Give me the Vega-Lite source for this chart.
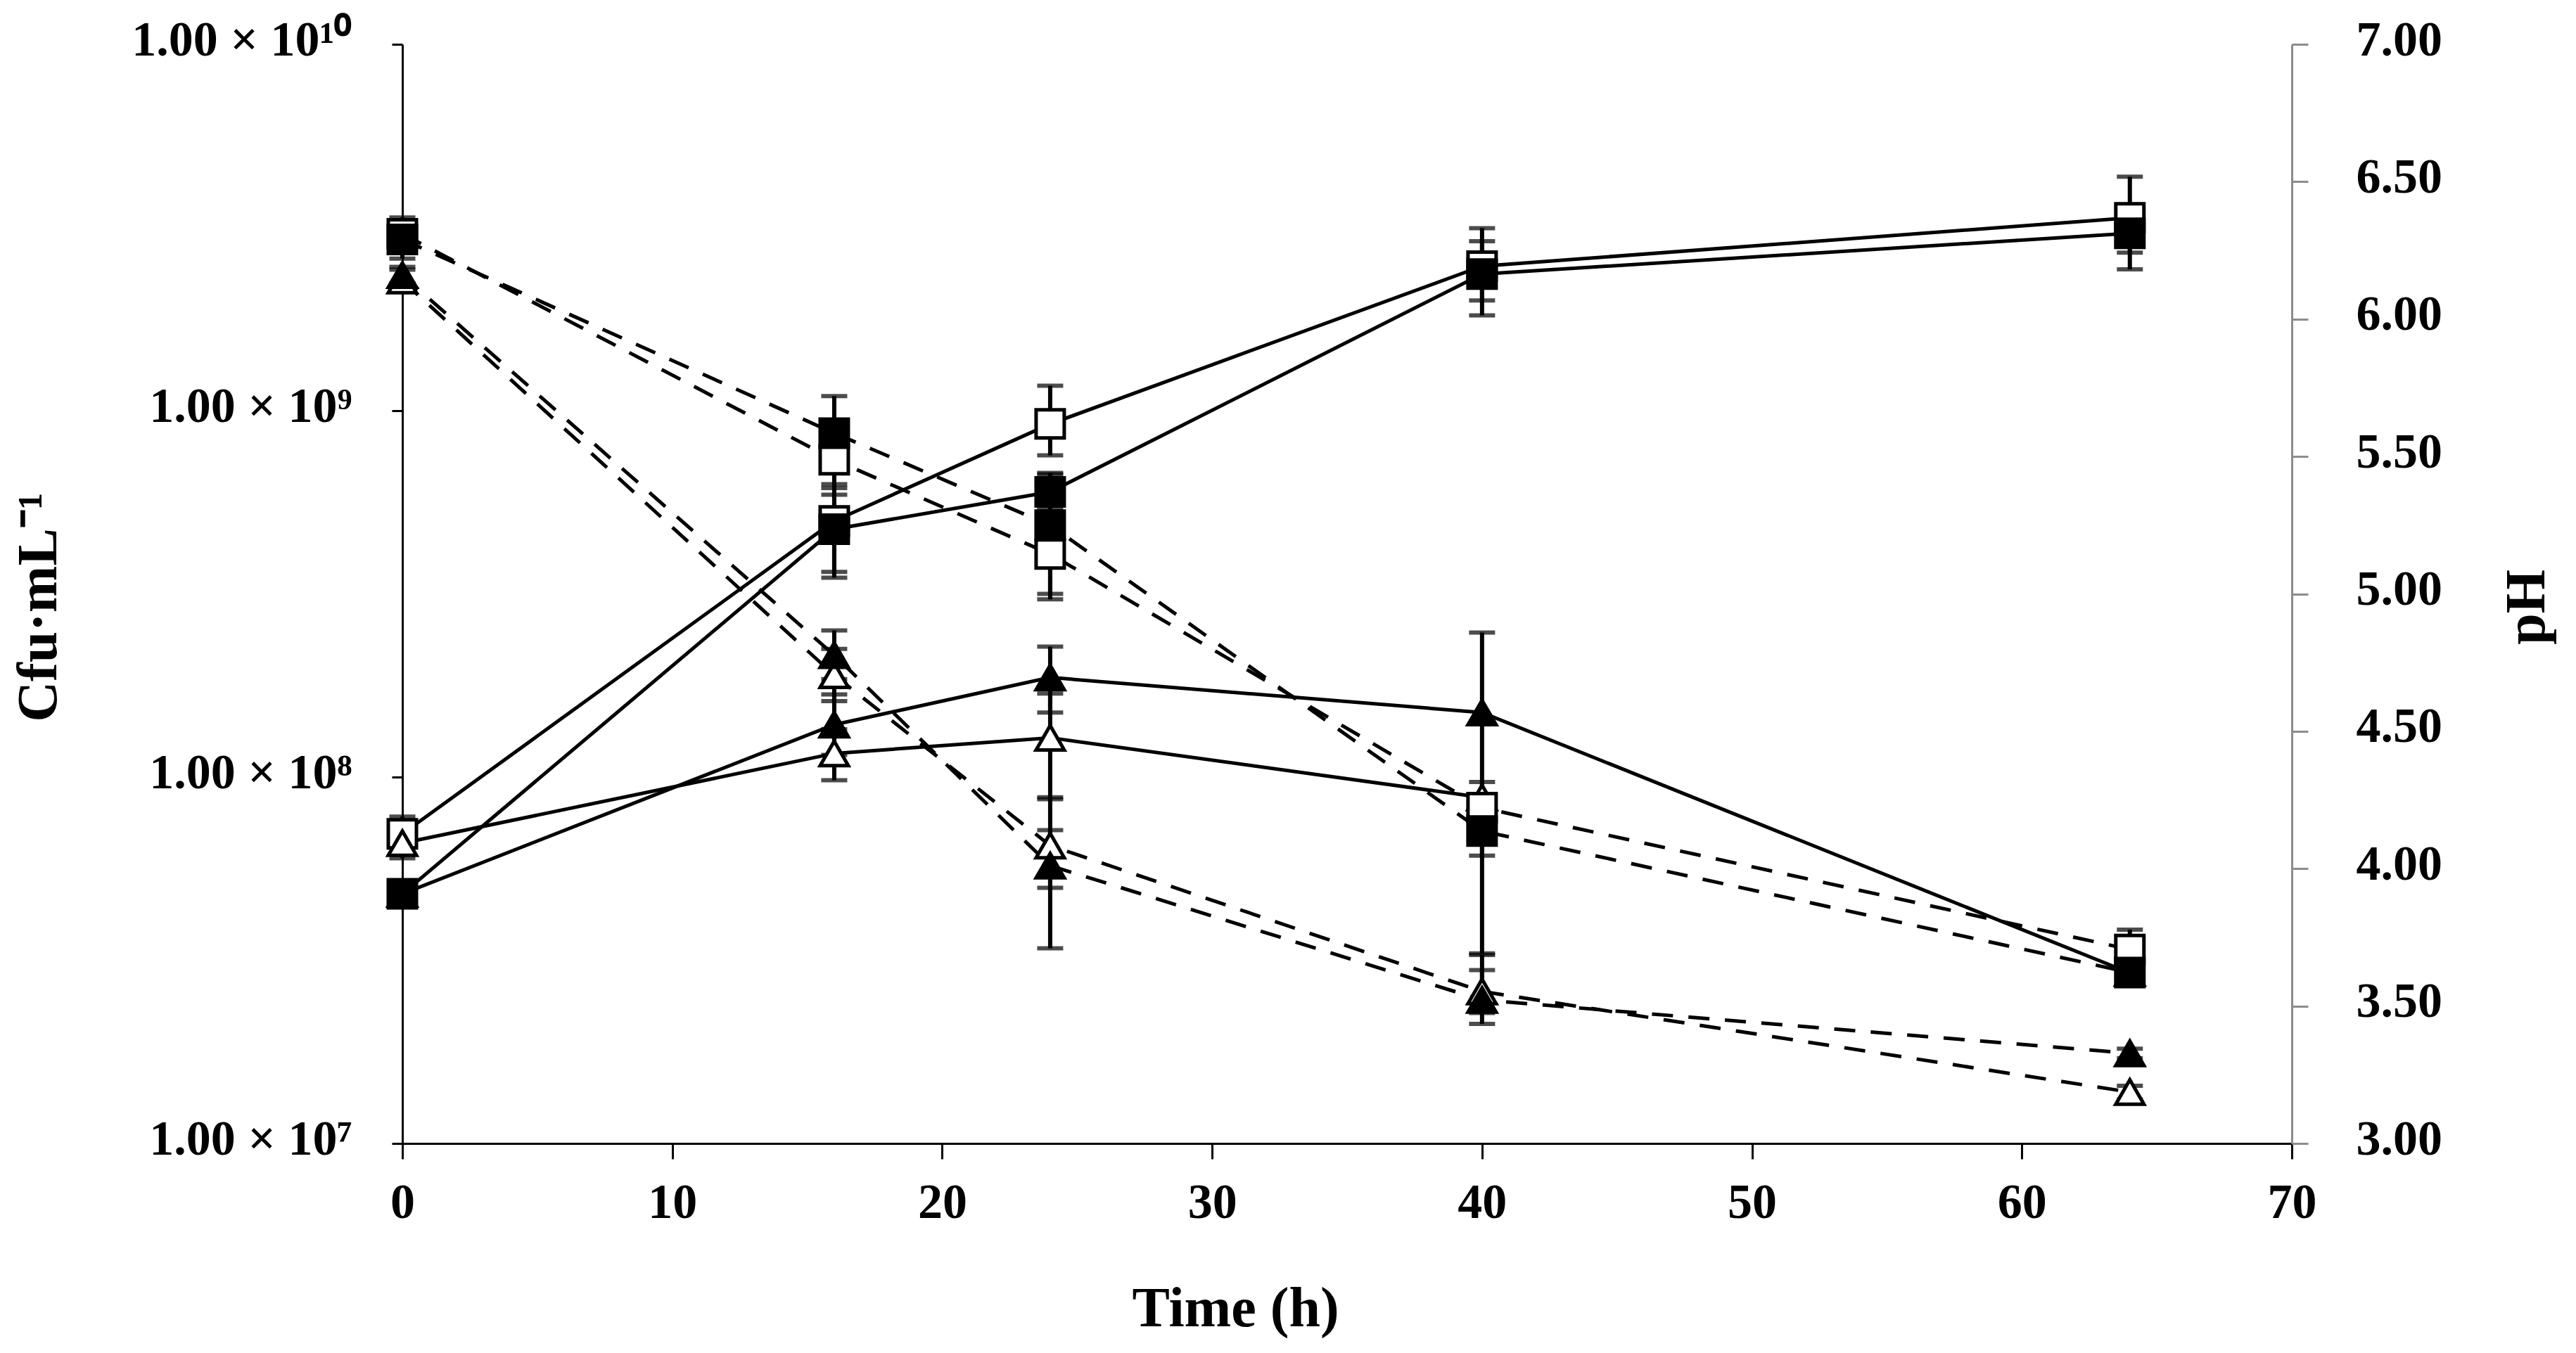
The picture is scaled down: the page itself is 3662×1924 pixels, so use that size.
{
  "$schema": "https://vega.github.io/schema/vega-lite/v6.json",
  "width": 2686,
  "height": 1563,
  "autosize": {"type": "none"},
  "padding": {"left": 572, "top": 63, "right": 404, "bottom": 298},
  "background": "white",
  "datasets": {
    "cfu": [
      {"t": 0, "s": "os", "v": 7.0e7, "lo": 6.2e7, "hi": 7.8e7},
      {"t": 16, "s": "os", "v": 5.0e8, "lo": 3.63e8, "hi": 6.3e8},
      {"t": 24, "s": "os", "v": 9.2e8, "lo": 7.55e8, "hi": 1.17e9},
      {"t": 40, "s": "os", "v": 2.48e9, "lo": 2.0e9, "hi": 3.15e9},
      {"t": 64, "s": "os", "v": 3.36e9, "lo": 2.7e9, "hi": 4.35e9},
      {"t": 0, "s": "ot", "v": 6.6e7, "lo": 6.0e7, "hi": 7.2e7},
      {"t": 16, "s": "ot", "v": 1.16e8, "lo": 9.8e7, "hi": 1.35e8},
      {"t": 24, "s": "ot", "v": 1.28e8, "lo": 8.7e7, "hi": 1.69e8},
      {"t": 40, "s": "ot", "v": 8.8e7, "lo": 6.1e7, "hi": 9.7e7},
      {"t": 0, "s": "fs", "v": 4.8e7, "lo": 4.5e7, "hi": 5.2e7},
      {"t": 16, "s": "fs", "v": 4.75e8, "lo": 3.5e8, "hi": 5.9e8},
      {"t": 24, "s": "fs", "v": 6.0e8, "lo": 5.4e8, "hi": 6.7e8},
      {"t": 40, "s": "fs", "v": 2.36e9, "lo": 1.82e9, "hi": 2.9e9},
      {"t": 64, "s": "fs", "v": 3.05e9, "lo": 2.43e9, "hi": 3.6e9},
      {"t": 0, "s": "ft", "v": 4.8e7, "lo": 4.5e7, "hi": 5.1e7},
      {"t": 16, "s": "ft", "v": 1.39e8, "lo": 1.15e8, "hi": 1.68e8},
      {"t": 24, "s": "ft", "v": 1.87e8, "lo": 1.5e8, "hi": 2.27e8},
      {"t": 40, "s": "ft", "v": 1.5e8, "lo": 3.3e7, "hi": 2.48e8},
      {"t": 64, "s": "ft", "v": 2.92e7, "lo": 2.8e7, "hi": 3.05e7}
    ],
    "ph": [
      {"t": 0, "s": "os", "v": 6.31, "lo": 6.28, "hi": 6.34},
      {"t": 16, "s": "os", "v": 5.488, "lo": 5.385, "hi": 5.59},
      {"t": 24, "s": "os", "v": 5.145, "lo": 4.98, "hi": 5.3},
      {"t": 40, "s": "os", "v": 4.222, "lo": 4.17, "hi": 4.27},
      {"t": 64, "s": "os", "v": 3.706, "lo": 3.63, "hi": 3.778},
      {"t": 0, "s": "ot", "v": 6.14, "lo": 6.1, "hi": 6.18},
      {"t": 16, "s": "ot", "v": 4.704, "lo": 4.61, "hi": 4.8},
      {"t": 24, "s": "ot", "v": 4.084, "lo": 3.93, "hi": 4.14},
      {"t": 40, "s": "ot", "v": 3.553, "lo": 3.475, "hi": 3.686},
      {"t": 64, "s": "ot", "v": 3.187, "lo": 3.16, "hi": 3.21},
      {"t": 0, "s": "fs", "v": 6.29, "lo": 6.22, "hi": 6.37},
      {"t": 16, "s": "fs", "v": 5.585, "lo": 5.45, "hi": 5.72},
      {"t": 24, "s": "fs", "v": 5.25, "lo": 5.0, "hi": 5.44},
      {"t": 40, "s": "fs", "v": 4.137, "lo": 4.09, "hi": 4.18},
      {"t": 64, "s": "fs", "v": 3.622, "lo": 3.6, "hi": 3.65},
      {"t": 0, "s": "ft", "v": 6.16, "lo": 6.13, "hi": 6.19},
      {"t": 16, "s": "ft", "v": 4.777, "lo": 4.69, "hi": 4.867},
      {"t": 24, "s": "ft", "v": 4.011, "lo": 3.71, "hi": 4.26},
      {"t": 40, "s": "ft", "v": 3.522, "lo": 3.435, "hi": 3.631},
      {"t": 64, "s": "ft", "v": 3.328, "lo": 3.31, "hi": 3.345}
    ]
  },
  "layer": [
    {
      "data": {"name": "cfu"},
      "encoding": {
        "x": {
          "field": "t",
          "type": "quantitative",
          "scale": {"domain": [0, 70], "nice": false},
          "axis": {
            "values": [0, 10, 20, 30, 40, 50, 60, 70],
            "title": "Time (h)",
            "titleX": 1184,
            "titleY": 235,
            "titleBaseline": "middle",
            "titleAlign": "center",
            "tickSize": 22,
            "labelPadding": 28
          }
        },
        "y": {
          "field": "v",
          "type": "quantitative",
          "scale": {"type": "log", "domain": [1e7, 1e10], "nice": false},
          "axis": {
            "orient": "left",
            "values": [1e7, 1e8, 1e9, 1e10],
            "labelExpr": "'1.00 × 10' + (datum.value > 5e9 ? '¹⁰' : datum.value > 5e8 ? '⁹' : datum.value > 5e7 ? '⁸' : '⁷')",
            "title": "Cfu·mL⁻¹",
            "titleAngle": 270,
            "titleX": -517,
            "titleY": 800,
            "titleBaseline": "middle",
            "titleAlign": "center",
            "tickSize": 15,
            "labelPadding": 57,
            "labelOffset": -6
          }
        }
      },
      "layer": [
        {
          "mark": {"type": "line", "color": "black", "strokeWidth": 5},
          "encoding": {"detail": {"field": "s"}}
        },
        {
          "mark": {"type": "errorbar", "ticks": true, "size": 37, "thickness": 6, "color": "black"},
          "encoding": {
            "y": {"field": "lo", "type": "quantitative", "title": "Cfu·mL⁻¹"},
            "y2": {"field": "hi"}
          }
        },
        {
          "mark": {"type": "point", "filled": true, "stroke": "black", "strokeWidth": 5, "opacity": 1},
          "encoding": {
            "shape": {"field": "s", "type": "nominal", "scale": {"domain": ["fs", "os", "ft", "ot"], "range": ["square", "square", "triangle-up", "triangle-up"]}, "legend": null},
            "fill": {"field": "s", "type": "nominal", "scale": {"domain": ["fs", "os", "ft", "ot"], "range": ["black", "white", "black", "white"]}, "legend": null},
            "size": {"value": 1600}
          }
        }
      ]
    },
    {
      "data": {"name": "ph"},
      "encoding": {
        "x": {"field": "t", "type": "quantitative"},
        "y": {
          "field": "v",
          "type": "quantitative",
          "scale": {"domain": [3, 7], "nice": false, "zero": false},
          "axis": {
            "orient": "right",
            "values": [3, 3.5, 4, 4.5, 5, 5.5, 6, 6.5, 7],
            "format": ".2f",
            "title": "pH",
            "titleAngle": 270,
            "titleX": 334,
            "titleY": 800,
            "titleBaseline": "middle",
            "titleAlign": "center",
            "domainColor": "#8c8c8c",
            "tickColor": "#8c8c8c",
            "tickSize": 23,
            "labelPadding": 68,
            "labelAlign": "left",
            "labelOffset": -6
          }
        }
      },
      "layer": [
        {
          "mark": {"type": "line", "color": "black", "strokeWidth": 5, "strokeDash": [30, 22]},
          "encoding": {"detail": {"field": "s"}}
        },
        {
          "mark": {"type": "errorbar", "ticks": true, "size": 37, "thickness": 6, "color": "black"},
          "encoding": {
            "y": {"field": "lo", "type": "quantitative", "title": "pH"},
            "y2": {"field": "hi"}
          }
        },
        {
          "mark": {"type": "point", "filled": true, "stroke": "black", "strokeWidth": 5, "opacity": 1},
          "encoding": {
            "shape": {"field": "s", "type": "nominal", "legend": null},
            "fill": {"field": "s", "type": "nominal", "legend": null},
            "size": {"value": 1600}
          }
        }
      ]
    }
  ],
  "resolve": {"scale": {"y": "independent"}, "axis": {"y": "independent"}},
  "config": {
    "view": {"stroke": null},
    "axis": {
      "grid": false,
      "domainColor": "black",
      "domainWidth": 3,
      "tickColor": "black",
      "tickWidth": 3,
      "labelFont": "Liberation Serif",
      "labelFontSize": 70,
      "labelFontWeight": "bold",
      "labelColor": "black",
      "labelFlush": false,
      "labelOverlap": false,
      "labelBound": false,
      "labelLimit": 1000,
      "titleFont": "Liberation Serif",
      "titleFontSize": 80,
      "titleFontWeight": "bold",
      "titleColor": "black"
    }
  }
}
